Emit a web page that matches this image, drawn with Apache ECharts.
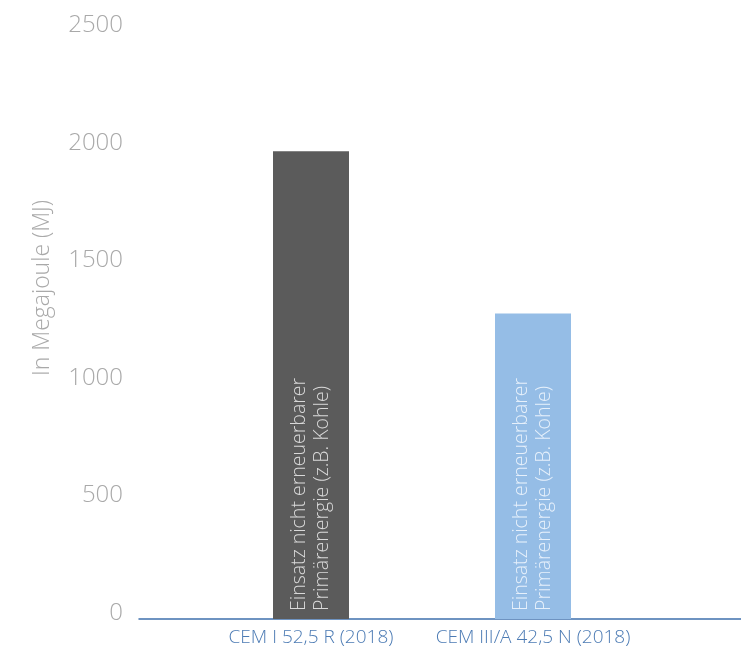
<!DOCTYPE html>
<html>
<head>
<meta charset="utf-8">
<script src="https://cdn.jsdelivr.net/npm/echarts@6/dist/echarts.min.js"></script>
<style>
html,body{margin:0;padding:0;background:#fff;}
#c{width:741px;height:657px;}
</style>
</head>
<body>
<div id="c"></div>
<script>
const categories = ['CEM I 52,5 R (2018)', 'CEM III/A 42,5 N (2018)'];
const values = [1990, 1300];
const barColors = ['#5b5b5b', '#95bde6'];
const labelColors = ['#d9d9d9', '#e6f0fb'];
const yTicks = [0, 500, 1000, 1500, 2000, 2500];
const barLabel = 'Einsatz nicht erneuerbarer\nPrimärenergie (z.B. Kohle)';
const yName = 'In Megajoule (MJ)';

const FONT = '"Open Sans"';
const chart = echarts.init(document.getElementById('c'));
chart.setOption({
  animation: false,
  backgroundColor: '#ffffff',
  grid: [
    {left: 139, right: 0, top: 31.5, bottom: 38},
    {left: 200, right: 97, top: 31.5, bottom: 38}
  ],
  xAxis: [
    {type: 'category', gridIndex: 0, data: [''],
     axisLine: {show: true, lineStyle: {color: '#3f70ad', width: 1.5}},
     axisTick: {show: false}, axisLabel: {show: false}},
    {type: 'category', gridIndex: 1, data: categories,
     axisLine: {show: false}, axisTick: {show: false},
     axisLabel: {interval: 0, color: '#4c7bb4', fontFamily: FONT, fontWeight: 300, fontSize: 19, margin: 9}}
  ],
  yAxis: [
    {type: 'value', gridIndex: 0, min: yTicks[0], max: yTicks[yTicks.length-1], interval: 500,
     axisLine: {show: false}, axisTick: {show: false}, splitLine: {show: false},
     axisLabel: {color: '#a9a9a9', fontFamily: FONT, fontWeight: 300, fontSize: 24, margin: 16,
                 verticalAlign: 'bottom', lineHeight: 12, formatter: v => String(v)}},
    {type: 'value', gridIndex: 1, min: yTicks[0], max: yTicks[yTicks.length-1], interval: 500,
     show: false, splitLine: {show: false}}
  ],
  graphic: [{
    type: 'text', x: 42, y: 288, rotation: Math.PI / 2,
    style: {text: yName, fill: '#a9a9a9', font: '300 23px ' + FONT,
            align: 'center', verticalAlign: 'middle'}
  }],
  series: [{
    type: 'bar', xAxisIndex: 1, yAxisIndex: 1, barWidth: 76,
    data: values.map((v, i) => ({
      value: v,
      itemStyle: {color: barColors[i]},
      label: {color: labelColors[i]}
    })),
    label: {
      show: true, position: 'insideBottom', distance: 8, rotate: 90,
      align: 'left', verticalAlign: 'middle',
      formatter: barLabel, fontFamily: FONT, fontWeight: 300, fontSize: 19.5, lineHeight: 23
    }
  }]
});
</script>
</body>
</html>
